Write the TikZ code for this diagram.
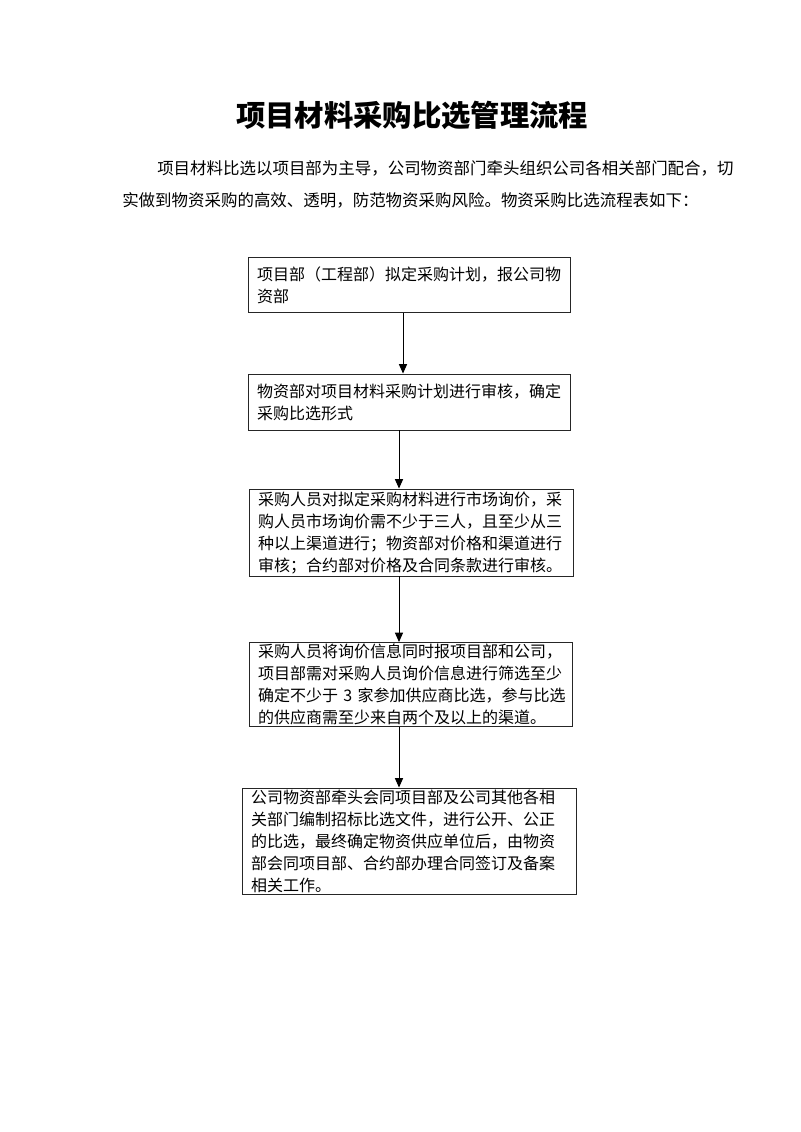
\documentclass[tikz,border=0pt]{standalone}
\usepackage{fontspec}
\setmainfont{Noto Sans CJK SC}
\usetikzlibrary{arrows.meta}
\begin{document}
\begin{tikzpicture}[x=0.75pt,y=-0.75pt,
  stepbox/.style={draw=black!85, line width=0.7pt, inner xsep=6.75pt, inner ysep=0pt,
    align=left, font=\fontsize{12}{16.5}\selectfont},
  arr/.style={line width=0.75pt, -{Triangle[length=7pt,width=6pt]}}]
\useasboundingbox (0,0) rectangle (800,1132);
\node[font=\bfseries\fontsize{22}{26}\selectfont] (title) at (412,115) {项目材料采购比选管理流程};
\node[anchor=base west, inner sep=0pt, font=\fontsize{12.35}{16}\selectfont] (p1) at (157,174) {项目材料比选以项目部为主导，公司物资部门牵头组织公司各相关部门配合，切};
\node[anchor=base west, inner sep=0pt, font=\fontsize{12.35}{16}\selectfont] (p2) at (122,206) {实做到物资采购的高效、透明，防范物资采购风险。物资采购比选流程表如下：};

\node[stepbox, minimum width=322*0.75pt, minimum height=55*0.75pt, text width=304*0.75pt] (b1) at (409,285)
  {项目部（工程部）拟定采购计划，报公司物\\资部};
\node[stepbox, minimum width=322*0.75pt, minimum height=56*0.75pt, text width=304*0.75pt] (b2) at (409,402)
  {物资部对项目材料采购计划进行审核，确定\\采购比选形式};
\node[stepbox, minimum width=324*0.75pt, minimum height=87*0.75pt, text width=306*0.75pt] (b3) at (411,532.5)
  {采购人员对拟定采购材料进行市场询价，采\\购人员市场询价需不少于三人，且至少从三\\种以上渠道进行；物资部对价格和渠道进行\\审核；合约部对价格及合同条款进行审核。};
\node[stepbox, minimum width=323*0.75pt, minimum height=84*0.75pt, text width=305*0.75pt] (b4) at (410.5,684.5)
  {采购人员将询价信息同时报项目部和公司，\\项目部需对采购人员询价信息进行筛选至少\\\mbox{确定不少于 3 家参加供应商比选，参与比选}\\的供应商需至少来自两个及以上的渠道。};
\node[stepbox, minimum width=334*0.75pt, minimum height=106*0.75pt, text width=316*0.75pt] (b5) at (409,841)
  {公司物资部牵头会同项目部及公司其他各相\\关部门编制招标比选文件，进行公开、公正\\的比选，最终确定物资供应单位后，由物资\\部会同项目部、合约部办理合同签订及备案\\相关工作。};

\coordinate (x1) at (403,0);
\coordinate (x2) at (399,0);
\draw[arr] (b1.south -| x1) -- (b2.north -| x1);
\draw[arr] (b2.south -| x2) -- (b3.north -| x2);
\draw[arr] (b3.south -| x2) -- (b4.north -| x2);
\draw[arr] (b4.south -| x2) -- (b5.north -| x2);
\end{tikzpicture}
\end{document}
